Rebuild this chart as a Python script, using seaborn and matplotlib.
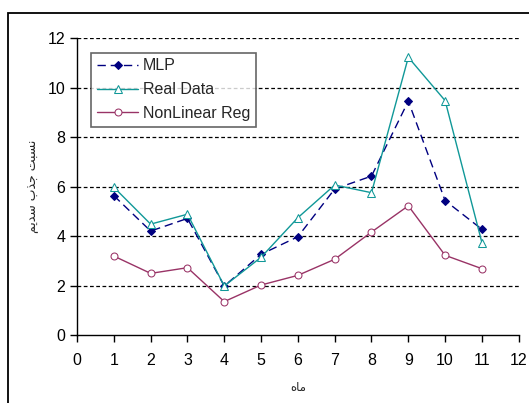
import matplotlib
matplotlib.use("Agg")
import matplotlib.pyplot as plt
import seaborn as sns
import pandas as pd
from matplotlib.patches import Rectangle

months = [1, 2, 3, 4, 5, 6, 7, 8, 9, 10, 11]
mlp = [5.63, 4.20, 4.71, 1.98, 3.26, 3.97, 5.90, 6.42, 9.45, 5.43, 4.27]
real_data = [5.97, 4.48, 4.88, 1.98, 3.14, 4.74, 6.06, 5.75, 11.22, 9.47, 3.73]
nonlinear = [3.19, 2.49, 2.72, 1.35, 2.02, 2.41, 3.06, 4.16, 5.22, 3.22, 2.68]
x_ticks = list(range(0, 13))
y_ticks = [0, 2, 4, 6, 8, 10, 12]

sns.set_style("white")
plt.rcParams['font.family'] = ['Liberation Sans', 'DejaVu Sans']

fig = plt.figure(figsize=(5.29, 4.03), dpi=100)
ax = fig.add_axes([0.1456, 0.1687, 0.835, 0.737])

df = pd.DataFrame({"month": months, "MLP": mlp, "Real Data": real_data,
                   "NonLinear Reg": nonlinear})

sns.lineplot(data=df, x="month", y="MLP", ax=ax, color="#000080", lw=1.0,
             marker="D", markersize=4, markerfacecolor="#000080",
             markeredgecolor="#000080", label="MLP", zorder=3)
ax.lines[-1].set_dashes([6, 3.5])
sns.lineplot(data=df, x="month", y="Real Data", ax=ax, color="#109898", lw=1.0,
             marker="^", markersize=6, markerfacecolor="white",
             markeredgecolor="#109898", label="Real Data", zorder=3)
sns.lineplot(data=df, x="month", y="NonLinear Reg", ax=ax, color="#993366", lw=1.0,
             marker="o", markersize=5, markerfacecolor="white",
             markeredgecolor="#993366", label="NonLinear Reg", zorder=3)

ax.set_xlim(0, 12)
ax.set_ylim(0, 12)
ax.set_xticks(x_ticks)
ax.set_yticks(y_ticks)
ax.tick_params(axis='both', direction='out', length=5, width=1, colors='black',
               labelsize=11.5, left=True, bottom=True)
ax.tick_params(axis='x', pad=8)
for y in y_ticks[1:]:
    ax.axhline(y, color='black', lw=0.9, ls=(0, (3, 2)), zorder=1)
for s in ['top', 'right']:
    ax.spines[s].set_visible(False)
for s in ['left', 'bottom']:
    ax.spines[s].set_color('black')
    ax.spines[s].set_linewidth(1.0)

ax.set_xlabel("ﻩﺎﻣ", fontsize=8.5, family=['DejaVu Sans'], labelpad=9)
ax.set_ylabel("ﻢﻳﺪﺳ ﺏﺬﺟ ﺖﺒﺴﻧ", fontsize=9, family=['DejaVu Sans'], labelpad=6)

leg = ax.legend(loc='upper left', bbox_to_anchor=(0.032, 0.95), borderaxespad=0,
                frameon=True, fancybox=False, edgecolor='#404040', fontsize=11.5,
                handlelength=2.6, borderpad=0.35, labelspacing=0.55,
                handletextpad=0.3)
leg.get_frame().set_linewidth(1.2)

fig.patches.append(Rectangle((8 / 529, -0.02), 1.05, 1 - 13 / 403 + 0.02,
                             transform=fig.transFigure, fill=False,
                             edgecolor='black', lw=1.3))

fig.savefig("out.png", dpi=100)
